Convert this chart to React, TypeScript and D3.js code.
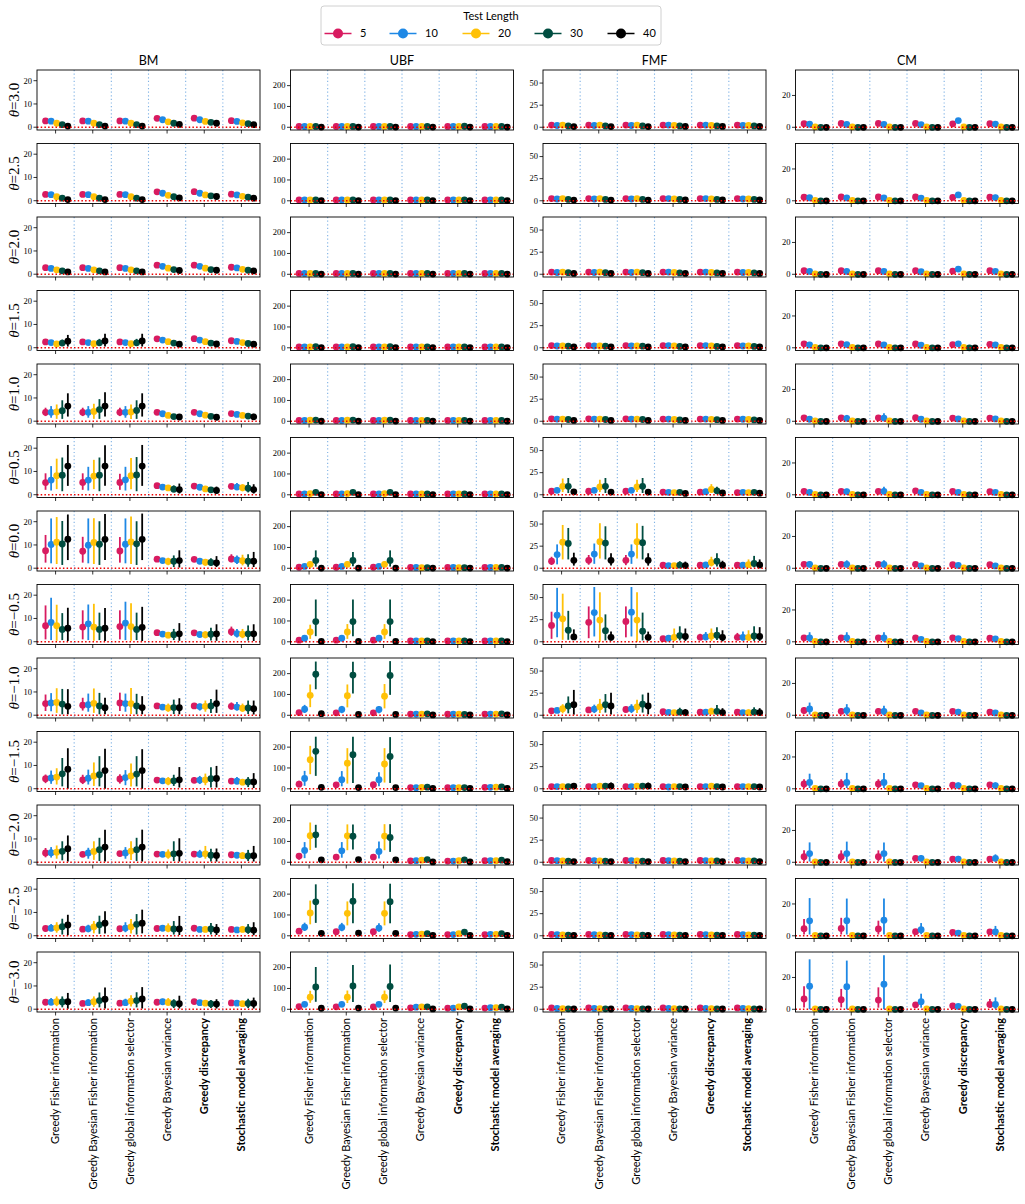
import React from 'react';
import * as d3 from 'd3';

type V = number | [number, number, number];

const LENGTHS = ['5', '10', '20', '30', '40'];
const COLORS = ['#D81B60', '#1E88E5', '#FFC107', '#004D40', '#000000'];
const METHODS = [
  'Greedy Fisher information',
  'Greedy Bayesian Fisher information',
  'Greedy global information selector',
  'Greedy Bayesian variance',
  'Greedy discrepancy',
  'Stochastic model averaging',
];
const METHOD_BOLD = [false, false, false, false, true, true];
const THETAS = ['3.0', '2.5', '2.0', '1.5', '1.0', '0.5', '0.0', '\u22120.5', '\u22121.0', '\u22121.5', '\u22122.0', '\u22122.5', '\u22123.0'];
const MODELS = ['BM', 'UBF', 'FMF', 'CM'];
const Y_DOMAINS: [number, number][] = [[-1.2, 24.6], [-13, 275], [-3.1, 64.8], [-1.7, 36]];
const Y_TICKS = [[0, 10, 20], [0, 100, 200], [0, 25, 50], [0, 20]];

// rows = theta (3.0 .. -3.0); groups = methods; entries = test lengths 5,10,20,30,40
// entry: mean, or [mean, lower, upper]
const BM: V[][][] = [
  [[2.7, 2.6, 1.7, 1.1, 0.5], [2.7, 2.6, 1.7, 1.1, 0.5], [2.7, 2.6, 1.7, 1.1, 0.5], [3.8, 3.2, 2.3, 1.7, 1.2], [3.9, 3.2, 2.5, 2.1, 1.7], [2.8, 2.5, 1.9, 1.5, 1.1]],
  [[2.7, 2.6, 1.7, 1.1, 0.5], [2.7, 2.6, 1.7, 1.1, 0.5], [2.7, 2.6, 1.7, 1.1, 0.5], [3.8, 3.2, 2.3, 1.7, 1.2], [3.9, 3.2, 2.5, 2.1, 1.8], [2.8, 2.5, 1.9, 1.5, 1.1]],
  [[2.8, 2.5, 1.9, 1.4, 1.0], [2.8, 2.5, 1.9, 1.4, 1.0], [2.8, 2.5, 1.9, 1.4, 1.0], [3.9, 3.4, 2.6, 2.0, 1.6], [3.9, 3.4, 2.6, 2.0, 1.7], [3.0, 2.7, 2.1, 1.7, 1.4]],
  [[2.5, 2.2, 1.6, [2.0, 0.8, 3.5], [2.8, 0.5, 5.5]], [2.5, 2.2, 1.7, [2.1, 0.8, 3.8], [2.9, 0.5, 6.0]], [2.5, 2.2, 1.7, [2.1, 0.8, 3.8], [2.9, 0.5, 6.0]], [3.8, 3.3, 2.6, 2.0, 1.5], [3.9, 3.3, 2.6, 2.0, 1.6], [3.0, 2.7, 2.2, 1.8, 1.5]],
  [[[3.8, 2.2, 5.8], [3.8, 1.5, 6.5], [4.0, 1.0, 7.2], [4.5, 1.0, 9.0], [6.5, 2.0, 12.0]], [[3.8, 2.2, 5.8], [3.8, 1.5, 6.5], [4.2, 1.0, 7.5], [5.0, 1.0, 9.5], [6.5, 2.0, 12.5]], [[3.8, 2.2, 5.8], [3.8, 1.5, 6.5], [4.0, 1.0, 7.2], [4.6, 1.0, 9.0], [6.5, 2.0, 12.0]], [3.8, 3.2, 2.5, 2.0, 1.8], [3.8, 3.2, 2.6, 2.1, 1.7], [3.3, 2.9, 2.5, 2.2, [1.9, 0.8, 3.2]]],
  [[[5.2, 2.1, 9.2], [6.3, 1.8, 12.3], [8.2, 2.4, 15.5], [8.4, 1.5, 16.0], [12.3, 3.8, 21.4]], [[5.3, 2.1, 9.2], [6.3, 1.8, 12.0], [8.0, 2.4, 15.0], [8.4, 1.5, 16.0], [12.3, 3.8, 21.3]], [[5.3, 2.1, 9.0], [6.4, 1.8, 12.0], [8.2, 2.4, 15.8], [8.5, 1.5, 16.2], [12.3, 3.8, 21.4]], [3.9, 3.3, [2.9, 1.8, 4.0], [2.4, 1.0, 4.0], [2.2, 0.5, 4.8]], [3.7, 3.2, [2.5, 1.5, 3.5], [2.1, 1.0, 3.3], [1.8, 0.5, 3.5]], [3.6, [3.3, 2.0, 5.0], [3.0, 1.5, 4.5], [2.8, 1.0, 5.5], [2.2, 0.5, 4.5]]],
  [[[7.5, 2.4, 14.3], [10.2, 2.1, 21.4], [11.2, 1.8, 22.0], [10.4, 1.4, 20.3], [12.5, 3.5, 23.1]], [[7.3, 2.4, 13.5], [9.9, 2.1, 21.4], [11.1, 1.8, 21.5], [10.3, 1.4, 20.2], [12.4, 3.5, 23.3]], [[7.4, 2.4, 13.4], [10.3, 2.1, 21.4], [11.3, 1.8, 22.2], [10.5, 1.4, 20.2], [12.4, 3.5, 23.5]], [3.9, 3.3, [2.9, 1.3, 4.5], [3.0, 0.5, 5.5], [3.3, 0.3, 7.7]], [3.8, [3.0, 2.0, 4.0], [2.6, 1.0, 3.6], [2.5, 1.0, 4.3], [2.3, 0.5, 5.2]], [[4.0, 2.5, 6.0], [3.6, 1.8, 5.5], [3.2, 1.2, 5.8], [3.0, 0.6, 6.0], [3.0, 0.5, 7.0]]],
  [[[6.9, 1.0, 15.6], [8.3, 0.7, 18.9], [6.9, 0.4, 15.9], [5.3, 0.7, 12.3], [5.8, 0.3, 14.6]], [[6.3, 1.0, 13.5], [7.7, 0.7, 16.0], [6.3, 0.4, 16.3], [5.3, 0.7, 12.5], [5.8, 0.3, 14.5]], [[6.5, 1.0, 13.5], [8.0, 0.7, 17.2], [6.5, 0.4, 16.5], [5.3, 0.7, 12.5], [6.2, 0.3, 15.0]], [3.9, 3.3, [2.8, 1.5, 4.0], [3.0, 0.7, 5.5], [3.4, 0.4, 8.0]], [3.8, 3.1, [3.0, 1.5, 4.5], [3.2, 0.5, 6.0], [3.4, 0.4, 7.5]], [[4.3, 2.5, 6.5], [3.5, 1.8, 5.5], [3.2, 1.5, 5.5], [3.4, 0.5, 7.0], [3.4, 0.3, 7.5]]],
  [[[5.0, 1.8, 8.9], [5.3, 1.7, 9.5], [5.5, 1.0, 11.6], [4.8, 0.4, 11.3], [3.8, 0.4, 11.2]], [[4.3, 2.0, 7.5], [4.5, 1.5, 9.3], [5.1, 1.0, 11.5], [4.0, 0.4, 9.6], [3.2, 0.4, 7.5]], [[5.3, 1.8, 9.7], [5.0, 1.5, 9.3], [5.0, 0.5, 11.7], [4.0, 0.4, 9.2], [3.3, 0.4, 8.2]], [4.0, 3.5, [3.1, 1.5, 5.0], [3.3, 0.5, 6.7], [3.2, 0.4, 7.3]], [4.0, [3.7, 2.0, 5.0], [3.8, 1.5, 6.3], [4.0, 1.0, 7.0], [5.0, 1.0, 11.0]], [[3.8, 2.5, 5.5], [3.5, 2.0, 5.7], [3.0, 1.5, 5.0], [3.1, 0.5, 6.3], [2.8, 0.3, 6.3]]],
  [[[4.3, 2.4, 6.1], [4.6, 2.1, 7.8], [5.0, 1.8, 8.8], [6.4, 1.0, 13.2], [8.4, 0.0, 17.4]], [[3.8, 2.0, 6.0], [4.5, 1.8, 8.2], [5.5, 1.2, 11.3], [6.0, 1.0, 14.0], [7.8, 0.0, 17.2]], [[4.2, 2.2, 6.2], [4.8, 1.5, 8.0], [5.5, 1.0, 10.8], [6.3, 1.0, 14.0], [7.8, 0.0, 17.0]], [3.7, 3.4, [3.2, 1.5, 5.0], [3.4, 1.2, 6.0], [3.8, 0.5, 9.3]], [[3.6, 2.5, 5.0], [3.7, 2.0, 5.5], [3.8, 1.5, 6.5], [4.3, 0.5, 9.2], [4.4, 0.5, 9.8]], [3.3, [3.2, 2.0, 5.0], [2.8, 1.5, 4.2], [2.9, 0.7, 5.0], [2.9, 0.3, 6.7]]],
  [[[4.0, 2.1, 6.1], [4.1, 2.0, 6.5], [4.3, 1.5, 7.2], [4.7, 0.8, 9.0], [5.8, 0.3, 11.5]], [[3.4, 2.5, 4.5], [4.0, 1.5, 6.2], [4.6, 1.0, 9.0], [5.4, 0.5, 10.5], [6.5, 0.3, 14.0]], [[3.7, 2.5, 4.8], [4.0, 1.5, 6.5], [4.8, 1.0, 9.0], [5.4, 0.5, 10.5], [6.5, 0.3, 14.0]], [3.5, 3.4, [3.3, 1.5, 5.5], [3.6, 0.5, 9.0], [3.8, 0.3, 10.3]], [3.5, [3.4, 2.0, 5.3], [3.6, 1.5, 7.0], [3.0, 0.3, 5.8], [2.9, 0.3, 5.9]], [3.2, 3.0, [2.8, 1.5, 4.3], [2.7, 0.5, 5.3], [2.8, 0.3, 7.0]]],
  [[3.1, [3.2, 2.0, 5.0], [3.4, 1.3, 5.8], [3.9, 0.5, 7.3], [4.6, 0.2, 9.0]], [2.8, [3.0, 1.5, 4.7], [3.8, 1.0, 6.3], [4.7, 0.8, 8.6], [5.4, 1.0, 10.5]], [3.0, [3.3, 1.5, 5.8], [3.8, 1.0, 7.2], [4.9, 0.5, 9.3], [5.4, 1.0, 11.2]], [3.1, 3.2, [3.1, 1.5, 5.3], [2.9, 0.5, 6.3], [2.9, 0.3, 8.5]], [3.2, 2.7, [2.7, 1.5, 4.2], [2.9, 0.5, 5.5], [2.5, 0.3, 5.0]], [2.7, 2.5, [2.7, 1.5, 4.2], [2.6, 0.8, 5.0], [2.4, 0.2, 5.8]]],
  [[3.0, [3.0, 2.0, 4.8], [3.2, 1.3, 5.5], [3.1, 0.8, 5.5], [3.2, 0.2, 7.0]], [2.5, [2.8, 1.5, 4.3], [3.2, 1.0, 5.5], [3.7, 0.8, 7.2], [4.3, 0.3, 9.3]], [2.6, [2.8, 1.5, 4.5], [3.5, 1.2, 6.0], [3.7, 0.8, 7.3], [4.4, 0.3, 9.5]], [3.0, [3.2, 2.0, 4.5], [2.9, 1.5, 4.8], [2.5, 0.5, 4.3], [2.4, 0.3, 5.8]], [3.3, 2.8, [2.6, 1.5, 3.8], [2.3, 0.5, 4.0], [2.2, 0.3, 4.3]], [2.7, 2.6, [2.4, 1.3, 3.5], [2.5, 0.5, 4.5], [2.5, 0.3, 5.0]]],
];

const UBF: V[][][] = [
  [[4, 4, 4, 4, 1], [4, 4, 4, 4, 1], [4, 4, 4, 4, 1], [4, 4, 4, 4, 1], [4, 4, 4, 5, 1], [4, 4, 4, 4, 1]],
  [[4, 4, 4, 4, 1], [4, 4, 4, 4, 1], [4, 4, 4, 4, 1], [4, 4, 4, 4, 1], [4, 4, 4, 4, 1], [4, 4, 4, 4, 1]],
  [[4, 4, 4, 4, 1], [4, 4, 4, 4, 1], [4, 4, 4, 4, 1], [4, 4, 4, 4, 1], [4, 4, 4, 4, 1], [4, 4, 4, 4, 1]],
  [[4, 4, 4, 5, 1], [4, 4, 4, 5, 1], [4, 4, 4, 5, 1], [4, 4, 4, 4, 1], [4, 4, 4, 4, 1], [4, 4, 4, 4, 1]],
  [[4, 4, 5, 6, 1], [4, 4, 5, 6, 1], [4, 4, 5, 6, 1], [4, 4, 4, 4, 1], [4, 4, 4, 4, 1], [4, 4, 4, 4, 1]],
  [[4, 4, 6, [12, 3, 25], 1], [4, 4, 6, [12, 3, 25], 1], [4, 4, 6, [12, 3, 25], 1], [4, 4, 4, 4, 1], [4, 4, 4, 4, 1], [4, 4, 4, 4, 1]],
  [[5, 9, [19, 6, 35], [38, 8, 86], 1], [5, 9, [19, 6, 35], [38, 10, 78], 1], [5, 9, [19, 6, 35], [38, 8, 86], 1], [4, 4, 3, 3, 1], [4, 4, 3, 3, 1], [4, 4, 4, 4, 1]],
  [[8, [17, 10, 25], [47, 14, 82], [97, 27, 203], 2], [8, [17, 10, 25], [47, 14, 85], [97, 27, 203], 2], [8, [17, 10, 25], [47, 14, 85], [97, 27, 203], 2], [4, 4, 4, 4, 1], [4, 4, 4, 4, 1], [4, 4, 4, 4, 1]],
  [[13, [29, 11, 50], [96, 39, 148], [197, 125, 258], 8], [12, [28, 10, 45], [94, 38, 148], [193, 105, 257], 4], [12, [28, 10, 45], [92, 33, 150], [191, 98, 260], 4], [6, 6, 6, 7, 2], [5, 5, 6, 4, 2], [6, 6, 6, 7, 2]],
  [[[22, 8, 39], [50, 14, 86], [140, 70, 206], [180, 62, 250], 7], [[19, 5, 30], [44, 12, 85], [123, 25, 195], [164, 28, 250], 6], [[20, 6, 32], [44, 12, 80], [119, 30, 195], [155, 28, 248], 6], [6, 5, 7, 8, 2], [5, 5, 5, 6, 2], [7, 7, 8, 9, 2]],
  [[[30, 12, 45], [57, 20, 97], [128, 59, 191], [132, 70, 180], 12], [[25, 12, 40], [55, 22, 97], [127, 58, 182], [125, 62, 182], 13], [[25, 12, 40], [52, 18, 100], [126, 58, 183], [119, 50, 183], 12], [7, 8, 10, [13, 5, 22], 2], [6, 6, 8, 12, 2], [8, 8, 8, 10, 3]],
  [[22, [41, 23, 63], [110, 55, 169], [163, 62, 247], 12], [20, [40, 22, 62], [108, 50, 165], [166, 60, 252], 13], [20, [37, 20, 60], [108, 50, 165], [164, 60, 250], 12], [6, 7, 8, 10, 2], [6, 6, 10, 18, 2], [6, 7, 7, 10, 2]],
  [[13, 24, [58, 31, 89], [107, 36, 203], 5], [12, 24, [58, 30, 90], [112, 35, 213], 6], [12, 24, [58, 30, 90], [110, 35, 215], 6], [7, 10, 12, 12, 2], [6, 6, 12, 15, 2], [6, 8, 8, 10, 2]],
];

const FMF: V[][][] = [
  [[2.5, 2, 2.5, 1.5, 0.8], [2.5, 2, 2.5, 1.5, 0.8], [2.5, 2, 2.5, 1.5, 0.8], [2.5, 2.5, 2, 1.5, 1], [2.5, 2.5, 2, 1.5, 1], [2.5, 2, 2, 1.5, 1]],
  [[2.5, 2, 2.5, 1.5, 0.8], [2.5, 2, 2.5, 1.5, 0.8], [2.5, 2, 2.5, 1.5, 0.8], [2.5, 2.5, 2, 1.5, 1], [2.5, 2.5, 2, 1.5, 1], [2.5, 2, 2, 1.5, 1]],
  [[2.5, 2, 2.5, 1.8, 1], [2.5, 2, 2.5, 1.8, 1], [2.5, 2, 2.5, 1.8, 1], [2.5, 2.5, 2, 1.5, 1], [2.5, 2.5, 2, 1.5, 1], [2.5, 2, 2, 1.5, 1]],
  [[2.5, 2, 2, 1.8, 1], [2.5, 2, 2, 1.8, 1], [2.5, 2, 2, 1.8, 1], [2.5, 2.5, 2, 1.5, 1], [2.5, 2.5, 2, 1.5, 1], [2.5, 2, 2, 1.5, 1]],
  [[2.8, 2.5, 2.5, 2, 1], [2.8, 2.5, 2.5, 2, 1], [2.8, 2.5, 2.5, 2, 1], [2.5, 2.5, 2, 1.5, 1], [2.5, 2.5, 2.2, 1.8, 1], [2.5, 2.3, 2, 1.5, 1]],
  [[4, [5, 2.5, 8], [9.5, 3, 18.4], [9.5, 2, 19], 3.3], [4, [5, 2.5, 8], [9, 3, 17], [9.5, 2, 19], 3], [4, [5, 2.5, 8], [9, 3, 17], [9.5, 2, 19], 3], [3, 2.8, 2.5, 2.8, 1.5], [3, 3.5, [6, 2, 12], [4.5, 1, 9], [2, 0.5, 4]], [2.5, 2.8, 2.5, 2.8, 1.8]],
  [[[8, 3.7, 13], [15.5, 4.4, 27], [29.5, 10, 49], [28, 10, 45.6], [9, 3, 17.6]], [[9, 4, 15], [16, 5, 28], [30, 11, 51], [28.5, 10, 47.5], [9, 3, 17]], [[9, 3.5, 15], [16, 5, 27], [30, 11, 51], [29, 10, 48], [9, 3, 17]], [3.5, 3, 3, [3.5, 1, 8], [3, 0.5, 7.5]], [3.5, 3.8, [6.5, 2, 13], [8, 2, 17], [3.5, 0.5, 8.5]], [3.5, 3.5, [4, 1.5, 10], [5.5, 1, 14], [3.7, 0.5, 10]]],
  [[[18.5, 3.3, 34], [30, 5.1, 61], [26, 2.2, 54.4], [13, 2.2, 35], [5.5, 2.2, 14]], [[22, 4, 40], [33, 6, 62], [24.5, 0, 56], [12.5, 1.5, 31], [5, 1.5, 11.5]], [[23, 5, 40], [33.5, 6, 62], [24.5, 0, 56], [12, 1.5, 33], [5, 1.5, 11.5]], [3.5, [4, 1.5, 7], [5, 0.5, 15], [7, 1.5, 17.5], [6, 1, 15]], [[5, 2, 9], [5.5, 1.5, 11], [6.5, 1, 15], [7.5, 2, 16.5], [5, 0.5, 13]], [[5, 2, 10], [5, 1.5, 11.5], [5, 1, 13], [6.5, 1, 17.5], [6, 1, 16.5]]],
  [[5, 5.5, [7.5, 2.2, 12.5], [10.5, 2.2, 21.3], [12, 0.7, 28.7]], [[6, 4, 9], [7, 2.5, 12], [9.5, 2.5, 18.5], [12, 3, 24], [10.5, 1, 25.5]], [[6.5, 4, 10], [7.3, 2.5, 12.5], [9.5, 2.5, 17.5], [12.5, 3, 23.5], [10.5, 1, 25.5]], [4, [3.3, 1.5, 5], 3, [3.5, 0.5, 8.5], [3, 0.5, 7]], [3.5, 3.5, [4.5, 1.5, 8.5], [4.5, 1, 11.5], [3, 0.5, 8]], [3.5, 3, [3, 1, 6.5], [3.5, 0.5, 9], [3, 0.5, 8]]],
  [[2.5, 2.5, 2.5, [2.5, 0.5, 5], [3, 0.5, 6.5]], [2.5, 2.5, [3, 1, 5], [3, 0.5, 6.5], [3, 0.5, 7]], [2.5, 2.5, [3, 1, 5], [3, 0.5, 6.5], [3, 0.5, 7]], [2.5, 2, 2.5, [2.5, 0.5, 5], [2, 0.5, 4.5]], [2.5, 2.5, [3, 1, 5.5], [2.5, 0.5, 5], [2, 0.3, 4.5]], [2.5, 2.5, 2.5, [2.5, 0.5, 5], [2, 0.3, 4.5]]],
  [[2, 1.8, 1.5, 1.2, 0.8], [2, 1.8, 1.5, 1.2, 0.8], [2, 1.8, 1.5, 1.2, 0.8], [2, 1.8, 1.5, 1.2, 0.8], [2, 1.8, 1.5, 1.5, 0.8], [2, 1.8, 1.5, 1.5, 0.8]],
  [[1.5, 1.2, 1, 0.6, 0.4], [1.5, 1.2, 1, 0.6, 0.4], [1.5, 1.2, 1, 0.6, 0.4], [1.5, 1.2, 1, 0.6, 0.4], [1.5, 1.2, 1, 0.6, 0.4], [1.5, 1.2, 1, 0.6, 0.4]],
  [[1.5, 1, 0.8, 0.5, 0.3], [1.5, 1, 0.8, 0.5, 0.3], [1.5, 1, 0.8, 0.5, 0.3], [1.5, 1, 0.8, 0.5, 0.3], [1.5, 1, 0.8, 0.5, 0.3], [1.5, 1, 0.8, 0.5, 0.3]],
];

const CM: V[][][] = [
  [[2.3, 1.9, 0.3, 0, 0], [2.4, 1.8, 0.3, 0, 0], [2.4, 1.8, 0.3, 0, 0], [2.4, 1.7, 0.3, 0, 0], [2.2, 4.2, 0.3, 0, 0], [2.3, 2, 0.3, 0, 0]],
  [[2.3, 1.9, 0.3, 0, 0], [2.4, 1.8, 0.3, 0, 0], [2.4, 1.8, 0.3, 0, 0], [2.4, 1.7, 0.3, 0, 0], [2.1, [3.7, 2, 5.2], 0.3, 0, 0], [2.3, [2, 0.8, 3.8], 0.3, 0, 0]],
  [[2.3, 1.8, 0.3, 0, 0], [2.3, 1.8, 0.3, 0, 0], [2.3, 1.8, 0.3, 0, 0], [2.3, 1.6, 0.3, 0, 0], [2, [3.3, 2, 4.8], 0.3, 0, 0], [2.3, 1.8, 0.3, 0, 0]],
  [[2.5, 1.8, 0.3, 0, 0], [2.5, [2, 1, 3.2], 0.3, 0, 0], [2.4, 1.8, 0.3, 0, 0], [2.4, 1.6, 0.3, 0, 0], [2, [2.5, 1, 4], 0.3, 0, 0], [2.2, 1.8, 0.3, 0, 0]],
  [[2.2, 1.3, 0.3, 0, 0], [2.2, [1.8, 0.3, 4], 0.3, 0, 0], [2.2, [2, 0.5, 5], 0.3, 0, 0], [2.3, 1.3, 0.3, 0, 0], [2, [1.5, 0.5, 3], 0.3, 0, 0], [2, [1.5, 0.5, 3], 0.3, 0, 0]],
  [[2.2, [1.5, 0.5, 3], 0.3, 0, 0], [2.2, [2, 0.5, 3.8], 0.3, 0, 0], [2.2, [2.2, 0.5, 5], 0.3, 0, 0], [2.5, 1.5, 0.3, 0, 0], [2.2, 1.5, 0.3, 0, 0], [2, 1.5, 0.3, 0, 0]],
  [[2.5, [2.5, 0.5, 4.5], 0.3, 0, 0], [2.5, [2.5, 0.5, 5], 0.3, 0, 0], [2.5, [2.5, 0.5, 5], 0.3, 0, 0], [2.5, 1.5, 0.3, 0, 0], [2.3, [1.8, 0.5, 3.5], 0.3, 0, 0], [2.3, 1.5, 0.3, 0, 0]],
  [[[2.5, 0.8, 4], [2.5, 0, 6], 0.3, 0, 0], [2.5, [2.5, 0, 6], 0.3, 0, 0], [2.5, [2.5, 0, 6], 0.3, 0, 0], [2.5, 1.5, 0.3, 0, 0], [2.5, [2, 0.5, 3.5], 0.3, 0, 0], [2.3, 1.8, 0.3, 0, 0]],
  [[[3, 1, 5], [4, 0.5, 8], 0.3, 0, 0], [[2.5, 1, 4.5], [3, 0, 7], 0.3, 0, 0], [[2.5, 1, 4.5], [2.5, 0, 6], 0.3, 0, 0], [2.5, 1.5, 0.3, 0, 0], [2.5, [2, 0.5, 4], 0.3, 0, 0], [2, 1.5, 0.3, 0, 0]],
  [[[3, 0.5, 6], [4, 0.5, 9.5], 0.3, 0, 0], [[3, 0.5, 6], [4, 0.5, 10], 0.3, 0, 0], [[3, 0.5, 6], [4, 0.5, 10], 0.3, 0, 0], [2.5, 2, 0.3, 0, 0], [2.3, [2, 0.5, 4], 0.3, 0, 0], [2.5, [2, 0.5, 4], 0.3, 0, 0]],
  [[[3.5, 0.5, 7.5], [5.5, 0.5, 12.5], 0.3, 0, 0], [[3.5, 0.5, 7.5], [5.5, 0.5, 13], 0.3, 0, 0], [[3.5, 0.5, 7.5], [5.5, 0.5, 12.5], 0.3, 0, 0], [2.5, [2.5, 0.5, 4.5], 0.3, 0, 0], [2, [2, 0.5, 4], 0.3, 0, 0], [2, [2.5, 0.5, 5], 0.3, 0, 0]],
  [[[4.5, 0.8, 10.6], [9.4, 0.8, 23.7], 0.3, 0, 0], [[4.6, 0.8, 11.3], [9.5, 0.8, 23.4], 0.3, 0, 0], [[4.3, 0.8, 9.5], [9.8, 0.8, 23.5], 0.3, 0, 0], [2.6, [3.8, 1, 8], 0.3, 0, 0], [2.2, [1.7, 0.5, 3], 0.3, 0, 0], [2.5, [2.4, 0.5, 6.2], 0.3, 0, 0]],
  [[[6.5, 1.2, 14.5], [14.5, 0, 31.4], 0.3, 0, 0], [[6, 1.2, 12.8], [14.2, 0, 30.6], 0.3, 0, 0], [[5.8, 1, 13.8], [15.8, 0, 34], 0.3, 0, 0], [2.8, [4.8, 1, 9.8], 0.3, 0, 0], [[2.2, 0.8, 3.5], 1.8, 0.3, 0, 0], [[3, 1, 6.5], [3, 0.3, 7.5], 0.3, 0, 0]],
];

const COLUMNS = [BM, UBF, FMF, CM];

// layout
const W = 1025;
const H = 1204;
const PANEL_LEFT = [37, 290.5, 543, 795.5];
const PANEL_W = 223;
const PANEL_TOP = 70;
const ROW_STEP = 73.5;
const PANEL_H = 60;
const DODGE = [-0.27, -0.12, 0.03, 0.18, 0.33];
const LEGEND_X = [338, 403, 476, 548, 621];

const SERIF = "'Liberation Serif', 'DejaVu Serif', serif";
const SANS = "Lato, 'DejaVu Sans', sans-serif";

function triple(v: V): [number, number, number] {
  return Array.isArray(v) ? v : [v, v, v];
}

export default function App() {
  const x0 = d3.scaleLinear().domain([-0.5, 5.5]).range([0, PANEL_W]);
  const panels: React.ReactNode[] = [];

  COLUMNS.forEach((colData, c) => {
    const left = PANEL_LEFT[c];
    const x = (v: number) => left + x0(v);
    colData.forEach((rowData, r) => {
      const top = PANEL_TOP + r * ROW_STEP;
      const y = d3.scaleLinear().domain(Y_DOMAINS[c]).range([top + PANEL_H, top]);
      const key = `p${c}-${r}`;
      const marks: React.ReactNode[] = [];
      LENGTHS.forEach((_, s) => {
        rowData.forEach((grp, g) => {
          const [m, lo, hi] = triple(grp[s]);
          const cx = x(g + DODGE[s]);
          if (hi > lo) {
            marks.push(
              <line key={`e${s}-${g}`} x1={cx} x2={cx} y1={y(lo)} y2={y(hi)} stroke={COLORS[s]} strokeWidth={1.8} />
            );
          }
          marks.push(<circle key={`m${s}-${g}`} cx={cx} cy={y(m)} r={3.4} fill={COLORS[s]} />);
        });
      });
      panels.push(
        <g key={key}>
          {marks}
          <line x1={left} x2={left + PANEL_W} y1={y(0)} y2={y(0)} stroke="#ee0000" strokeWidth={1.5} strokeDasharray="1.5 2.2" />
          {[0.5, 1.5, 2.5, 3.5, 4.5].map((b) => (
            <line key={`s${b}`} x1={x(b)} x2={x(b)} y1={top} y2={top + PANEL_H} stroke="#7fb2e5" strokeWidth={1.1} strokeDasharray="1.2 2.4" />
          ))}
          <rect x={left} y={top} width={PANEL_W} height={PANEL_H} fill="none" stroke="#000" strokeWidth={0.9} />
          {Y_TICKS[c].map((t) => (
            <g key={`yt${t}`}>
              <line x1={left - 3.5} x2={left} y1={y(t)} y2={y(t)} stroke="#000" strokeWidth={0.8} />
              <text x={left - 5} y={y(t)} dy="0.33em" textAnchor="end" fontFamily={SERIF} fontSize={8.5} fill="#000">{t}</text>
            </g>
          ))}
          {METHODS.map((_, g) => (
            <line key={`xt${g}`} x1={x(g)} x2={x(g)} y1={top + PANEL_H} y2={top + PANEL_H + 3.5} stroke="#000" strokeWidth={0.8} />
          ))}
        </g>
      );
    });
  });

  const lastBottom = PANEL_TOP + (THETAS.length - 1) * ROW_STEP + PANEL_H;

  return (
    <svg width={W} height={H} viewBox={`0 0 ${W} ${H}`} style={{ position: 'absolute', left: 0, top: 0, display: 'block', background: '#fff' }}>
      <rect x={0} y={0} width={W} height={H} fill="#fff" />
      {panels}
      {MODELS.map((mname, c) => (
        <text key={mname} x={PANEL_LEFT[c] + PANEL_W / 2} y={65} textAnchor="middle" fontFamily={SANS} fontSize={12.5} fill="#000">{mname}</text>
      ))}
      {THETAS.map((th, r) => {
        const cy = PANEL_TOP + r * ROW_STEP + PANEL_H / 2;
        return (
          <text key={`th${r}`} transform={`translate(18.5,${cy}) rotate(-90)`} textAnchor="middle" fontFamily={SERIF} fontSize={15} fill="#000">
            <tspan fontStyle="italic">θ</tspan>={th}
          </text>
        );
      })}
      {MODELS.map((_, c) =>
        METHODS.map((meth, g) => {
          const tx = PANEL_LEFT[c] + x0(g);
          return (
            <text key={`xl${c}-${g}`} transform={`translate(${tx},${lastBottom + 6}) rotate(-90)`} dy="0.35em" textAnchor="end" fontFamily={SANS} fontSize={11} fontWeight={METHOD_BOLD[g] ? 'bold' : 'normal'} fill="#000">
              {meth}
            </text>
          );
        })
      )}
      <g>
        <rect x={321} y={6} width={340} height={39} rx={3} fill="#fff" stroke="#d0d0d0" strokeWidth={1} />
        <text x={491} y={19.5} textAnchor="middle" fontFamily={SANS} fontSize={11} fill="#000">Test Length</text>
        {LENGTHS.map((lab, s) => (
          <g key={`lg${s}`}>
            <line x1={LEGEND_X[s] - 13.5} x2={LEGEND_X[s] + 13.5} y1={33.5} y2={33.5} stroke={COLORS[s]} strokeWidth={1.5} />
            <circle cx={LEGEND_X[s]} cy={33.5} r={5} fill={COLORS[s]} />
            <text x={LEGEND_X[s] + 22} y={33.5} dy="0.35em" fontFamily={SANS} fontSize={11} fill="#000">{lab}</text>
          </g>
        ))}
      </g>
    </svg>
  );
}
